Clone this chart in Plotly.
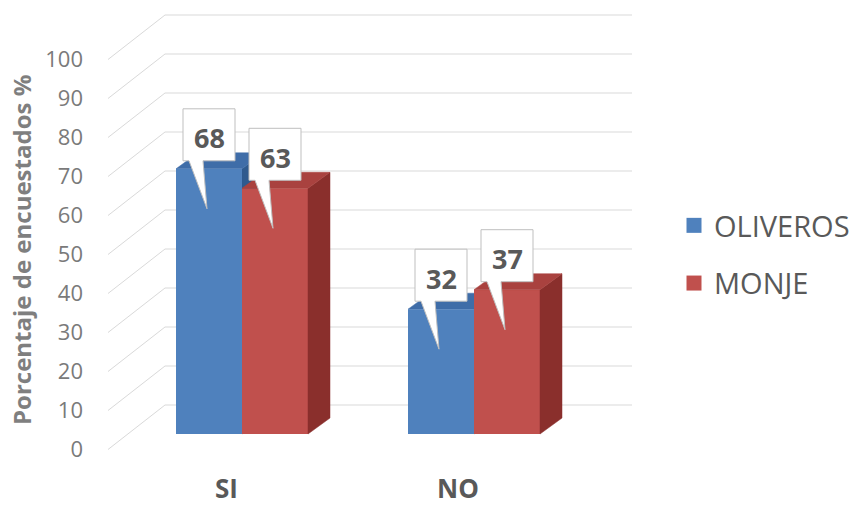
import plotly.graph_objects as go

# ---------------- data ----------------
categories = ["SI", "NO"]
series_names = ["OLIVEROS", "MONJE"]
oliveros = [68, 32]
monje = [63, 37]
y_ticks = [0, 10, 20, 30, 40, 50, 60, 70, 80, 90, 100]
y_title = "Porcentaje de encuestados %"

# ---------------- styles ----------------
W, H = 856, 506
PX_X = 232.0      # pixels per category unit
PX_Y = 3.9        # pixels per percentage unit
X0_PX, Y0_PX = 242, 434
xr = [-X0_PX / PX_X, (W - X0_PX) / PX_X]
yr = [-(H - Y0_PX) / PX_Y, Y0_PX / PX_Y]

def dx(px):
    return px / PX_X

def dy(px):
    return px / PX_Y

BARGAP = 0.431
BW = (1 - BARGAP) / 2          # width of one bar in category units
DEPTH_X, DEPTH_Y = dx(22), dy(16)
LABEL_OFF = dy(15.5)           # front label plane below bar plane
BACK_OFF = dy(29)              # back wall above bar plane

front_col = ["#4F81BD", "#C0504D"]
top_col = ["#3F6DA8", "#A9423F"]
side_col = ["#2F5A8E", "#8A2F2C"]
grid_col = "#D9D9D9"
FONT = "Open Sans"

series_vals = [oliveros, monje]
xs = list(range(len(categories)))

fig = go.Figure()

# gridlines: front diagonal + back wall horizontal
gx, gy = [], []
for v in y_ticks:
    gx += [dx(108 - X0_PX), dx(165 - X0_PX), dx(632 - X0_PX), None]
    gy += [v - LABEL_OFF, v + BACK_OFF, v + BACK_OFF, None]
fig.add_trace(go.Scatter(x=gx, y=gy, mode="lines", line=dict(color=grid_col, width=1),
                         hoverinfo="skip", showlegend=False, xaxis="x", yaxis="y"))

# 3D faces
def faces(s, axes):
    xa, ya = axes
    for i, v in zip(xs, series_vals[s]):
        xl = i + (s - 1) * BW
        xrr = xl + BW
        # side
        fig.add_trace(go.Scatter(
            x=[xrr, xrr + DEPTH_X, xrr + DEPTH_X, xrr, xrr],
            y=[0, DEPTH_Y, v + DEPTH_Y, v, 0],
            fill="toself", fillcolor=side_col[s], mode="lines",
            line=dict(color=side_col[s], width=0.5), hoverinfo="skip",
            showlegend=False, xaxis=xa, yaxis=ya))
        # top
        fig.add_trace(go.Scatter(
            x=[xl, xl + DEPTH_X, xrr + DEPTH_X, xrr, xl],
            y=[v, v + DEPTH_Y, v + DEPTH_Y, v, v],
            fill="toself", fillcolor=top_col[s], mode="lines",
            line=dict(color=top_col[s], width=0.5), hoverinfo="skip",
            showlegend=False, xaxis=xa, yaxis=ya))

faces(0, ("x", "y"))

# front faces: real bars on overlay axes
for s, name in enumerate(series_names):
    fig.add_trace(go.Bar(x=xs, y=series_vals[s], name=name,
                         marker=dict(color=front_col[s], line=dict(width=0)),
                         showlegend=False, xaxis="x2", yaxis="y2"))

faces(1, ("x2", "y2"))

# callouts
annotations = []
for s in range(len(series_names)):
    for i, v in zip(xs, series_vals[s]):
        cx = i + (s - 0.5) * BW
        L, R = cx - dx(26), cx + dx(26)
        T, B = v + dy(60), v + dy(8)
        px_ = [L, R, R, cx - dx(6), cx - dx(2), cx - dx(20), L, L]
        py_ = [T, T, B, B, v - dy(40), B, B, T]
        fig.add_trace(go.Scatter(x=px_, y=py_, fill="toself", fillcolor="white",
                                 mode="lines", line=dict(color="#BFBFBF", width=1),
                                 hoverinfo="skip", showlegend=False,
                                 xaxis="x2", yaxis="y2"))
        annotations.append(dict(x=cx, y=v, xref="x2", yref="y2", text=str(v),
                                showarrow=False, yshift=31,
                                font=dict(family=FONT, size=27, color="#595959", weight="bold")))

# legend entries (square swatches)
for s, name in enumerate(series_names):
    fig.add_trace(go.Scatter(x=[None], y=[None], mode="markers", name=name,
                             marker=dict(symbol="square", size=15, color=front_col[s]),
                             legendgroup=name, xaxis="x2", yaxis="y2"))

# category labels
for i, c in zip(xs, categories):
    annotations.append(dict(x=i, y=-LABEL_OFF - dy(38.5), xref="x", yref="y", text=c,
                            showarrow=False, xshift=-16,
                            font=dict(family=FONT, size=26, color="#595959", weight="bold")))

# y-axis title
annotations.append(dict(x=21 / W, y=1 - 250 / H, xref="paper", yref="paper",
                        xanchor="center", yanchor="middle",
                        text=y_title, textangle=-90, showarrow=False,
                        font=dict(family=FONT, size=24, color="#7F7F7F", weight="bold")))

# dummy trace for tick-label axis
fig.add_trace(go.Scatter(x=[None], y=[None], xaxis="x", yaxis="y3", showlegend=False,
                         hoverinfo="skip"))

hidden = dict(visible=False, showgrid=False, zeroline=False)
fig.update_layout(
    width=W, height=H,
    margin=dict(l=0, r=0, t=0, b=0),
    paper_bgcolor="white", plot_bgcolor="white",
    barmode="group", bargap=BARGAP, bargroupgap=0,
    xaxis=dict(range=xr, domain=[0, 1], **hidden),
    yaxis=dict(range=yr, domain=[0, 1], **hidden),
    xaxis2=dict(range=xr, overlaying="x", **hidden),
    yaxis2=dict(range=yr, overlaying="y", **hidden),
    yaxis3=dict(range=[yr[0] + LABEL_OFF, yr[1] + LABEL_OFF], overlaying="y",
                anchor="free", position=83 / W, side="left",
                tickvals=y_ticks, showgrid=False, zeroline=False, showline=False,
                ticks="", tickfont=dict(family=FONT, size=22, color="#7A7A7A")),
    legend=dict(x=674 / W, y=1 - 200 / H, xanchor="left", yanchor="top",
                font=dict(family=FONT, size=29, color="#595959"),
                tracegroupgap=17, bgcolor="rgba(0,0,0,0)", itemsizing="trace"),
    annotations=annotations,
    showlegend=True,
)

fig.write_html("out.html")
